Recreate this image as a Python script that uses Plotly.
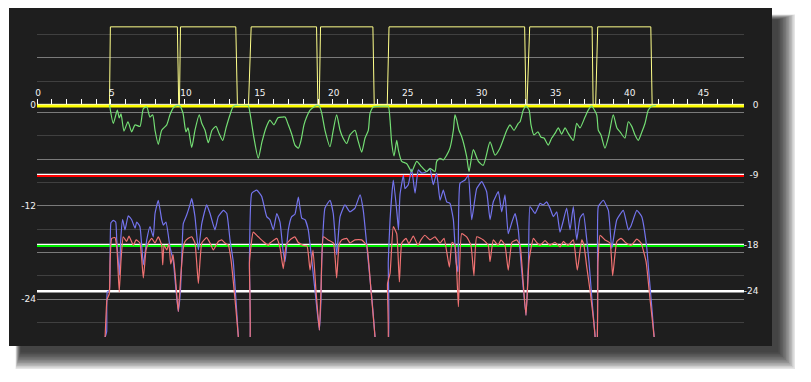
import plotly.graph_objects as go

# ---------------- data ----------------
x_max = 47.8

# gate state (0 = closed, 10 = open), right-axis units
gate_t = [0, 4.90, 4.96, 9.49, 9.58, 9.63, 9.70, 13.44, 13.55, 14.30, 14.48, 18.90, 18.99,
          19.08, 19.17, 22.71, 22.80, 23.68, 23.80, 32.97, 33.06, 33.13, 33.31, 37.53, 37.60,
          37.77, 37.91, 41.50, 41.59, 47.8]
gate_v = [0, 0, 10, 10, 0, 0, 10, 10, 0, 0, 10, 10, 0,
          0, 10, 10, 0, 0, 10, 10, 0, 0, 10, 10, 0,
          0, 10, 10, 0, 0]

# curves, left-axis units
green_t = [4.90, 5.16, 5.43, 5.56, 5.68, 5.88, 6.15, 6.40, 6.63, 6.96, 7.19, 7.42, 7.64, 7.82,
           7.98, 8.20, 8.43, 8.77, 8.99, 9.22, 9.50, 9.67, 9.87, 10.07, 10.21, 10.46, 10.68,
           10.97, 11.14, 11.36, 11.58, 11.83, 12.10, 12.31, 12.56, 12.78, 13.05, 13.25, 13.43,
           14.27, 14.40, 14.67, 14.96, 15.21, 15.48, 15.75, 16.02, 16.29, 16.57, 16.77, 16.99,
           17.24, 17.44, 17.67, 17.85, 18.05, 18.23, 18.46, 18.80, 18.93, 19.09, 19.25, 19.47,
           19.81, 20.01, 20.26, 20.49, 20.69, 20.94, 21.16, 21.50, 21.70, 21.95, 22.18, 22.40,
           22.52, 22.74, 23.53, 23.75, 23.87, 23.98, 24.14, 24.32, 24.43, 24.66, 25.00, 25.33,
           25.67, 26.01, 26.35, 26.57, 26.91, 27.02, 27.25, 27.47, 27.70, 27.92, 28.15, 28.26,
           28.38, 28.53, 28.71, 29.05, 29.21, 29.50, 29.84, 30.17, 30.63, 30.97, 31.30, 31.76,
           31.98, 32.25, 32.54, 32.66, 32.88, 33.06, 33.27, 33.40, 33.60, 33.87, 34.08, 34.28,
           34.57, 34.80, 35.02, 35.25, 35.47, 35.70, 35.92, 36.26, 36.49, 36.71, 37.05, 37.27,
           37.50, 37.84, 37.95, 38.13, 38.40, 38.67, 38.96, 39.21, 39.42, 39.75, 39.98, 40.21,
           40.43, 40.65, 40.90, 41.11, 41.33, 41.56, 41.85]
green_db = [1.0, -1.4, 0.3, -0.7, -0.2, -2.4, -1.2, -2.5, -1.6, -1.8, 0.5, 0.7, -0.6, -0.3,
            -2.3, -4.1, -2.3, -1.6, -0.3, 0.6, 0.9, 0.8, -0.1, -2.5, -2.0, -4.5, -2.3,
            -0.3, -1.4, -2.3, -3.9, -2.3, -1.8, -2.7, -3.6, -2.0, -0.3, 0.7, 0.9,
            0.9, -0.1, -3.3, -5.9, -3.8, -2.0, -1.0, -1.6, -0.7, -0.6, -0.6, -1.6,
            -2.9, -4.2, -4.6, -3.6, -1.6, -0.6, 0.3, 0.8, 0.9, 0.8, -0.1, -2.3,
            -4.4, -2.5, -0.3, -2.3, -3.3, -4.0, -2.9, -2.3, -3.6, -5.1, -3.3, -2.3,
            -0.1, 0.7, 0.8, 0.8, -1.0, -3.9, -5.6, -3.6, -4.8, -6.3, -6.6, -7.6,
            -6.3, -7.0, -7.6, -7.2, -7.6, -6.3, -5.9, -6.1, -5.5, -4.6, -2.3, -0.3,
            -1.0, -2.3, -3.1, -5.7, -7.6, -4.8, -6.3, -6.8, -3.8, -5.5, -4.6, -2.3,
            -1.6, -2.3, -1.4, -1.2, 0.3, 0.8, 0.3, -1.6, -2.9, -2.5, -3.2, -3.3,
            -4.2, -3.3, -2.7, -2.0, -2.8, -2.0, -2.7, -3.6, -1.4, -2.0, -0.6, 0.3,
            0.8, -0.3, -2.3, -2.9, -4.6, -2.9, -0.3, -2.0, -2.5, -3.3, -1.2, -1.8,
            -2.9, -3.6, -2.5, -1.4, 0.3, 0.8, 0.9]

blue_t = [4.50, 4.60, 4.71, 4.75, 4.89, 4.94, 5.00, 5.16, 5.32, 5.39, 5.50, 5.58, 5.66, 5.79,
          5.95, 6.17, 6.40, 6.63, 6.74, 6.96, 7.19, 7.42, 7.64, 7.86, 7.98, 8.20, 8.43, 8.54,
          8.72, 8.99, 9.22, 9.40, 9.55, 9.70, 9.78, 9.89, 10.12, 10.34, 10.46, 10.68, 10.91,
          11.14, 11.47, 11.70, 12.03, 12.26, 12.60, 12.83, 13.05, 13.27, 13.45, 13.61, 13.68,
          14.33, 14.36, 14.52, 14.86, 15.19, 15.53, 15.75, 15.98, 16.21, 16.43, 16.63, 16.77,
          16.99, 17.22, 17.44, 17.67, 17.90, 18.12, 18.34, 18.59, 18.86, 19.09, 19.20, 19.25,
          19.47, 19.81, 20.03, 20.26, 20.49, 20.82, 21.16, 21.50, 21.84, 22.06, 22.40, 22.65,
          22.85, 22.92, 23.68, 23.75, 23.87, 24.09, 24.32, 24.44, 24.54, 24.77, 24.88, 25.10,
          25.33, 25.56, 25.78, 26.01, 26.35, 26.57, 26.79, 27.02, 27.25, 27.47, 27.70, 27.92,
          28.15, 28.33, 28.46, 28.60, 28.94, 29.16, 29.39, 29.73, 30.07, 30.40, 30.63, 30.85,
          31.19, 31.42, 31.64, 31.86, 32.11, 32.32, 32.54, 32.72, 33.06, 33.23, 33.33, 33.67,
          34.01, 34.23, 34.46, 34.68, 34.91, 35.14, 35.36, 35.56, 35.81, 36.04, 36.26, 36.49,
          36.71, 36.94, 37.17, 37.32, 37.52, 37.73, 37.76, 37.84, 37.90, 37.95, 38.29, 38.63,
          38.86, 39.20, 39.64, 39.98, 40.16, 40.55, 40.88, 41.22, 41.38, 41.58, 41.72, 41.78]
blue_db = [-31, -29, -28.2, -23.1, -22.9, -19.2, -14.2, -13.9, -14.1, -16.4, -19.2, -20.9, -16.4, -13.8,
           -15.1, -13.3, -13.8, -14.9, -14.1, -14.7, -19.6, -16.4, -14.7, -16.0, -13.0, -11.3, -13.8, -14.5,
           -14.1, -17.3, -19.2, -22.9, -25.6, -22.9, -19.2, -14.3, -13.2, -11.9, -11.1, -13.4, -17.7,
           -14.3, -11.9, -13.0, -15.1, -13.4, -12.6, -13.0, -16.4, -19.2, -24.1, -28.8, -31,
           -31, -19.2, -10.4, -10.0, -10.8, -13.4, -13.8, -15.1, -13.0, -14.1, -17.7, -19.2,
           -15.1, -13.4, -13.1, -10.9, -13.6, -13.8, -15.1, -19.2, -24.1, -28.0, -24.1, -19.2,
           -12.3, -11.3, -13.0, -18.3, -13.4, -11.9, -12.8, -12.3, -10.6, -12.6, -19.2, -24.1,
           -28.8, -31, -31, -19.2, -13.8, -8.7, -12.6, -15.1, -10.6, -8.1, -9.8, -9.3,
           -7.3, -10.4, -7.4, -7.8, -7.6, -7.3, -9.3, -7.8, -11.3, -10.0, -11.5, -11.7,
           -13.8, -19.2, -20.5, -9.1, -8.7, -8.1, -13.8, -9.8, -8.9, -10.2, -13.8, -11.5,
           -10.2, -12.8, -10.6, -15.6, -14.1, -13.0, -15.1, -19.2, -26.1, -19.2, -12.1, -13.0,
           -11.7, -11.9, -11.5, -12.3, -13.4, -12.8, -15.4, -14.1, -12.3, -15.1, -12.1, -16.4,
           -13.6, -13.0, -16.4, -19.2, -24.1, -28.8, -31, -31, -19.2, -12.1, -11.3, -12.6,
           -17.5, -13.8, -12.6, -15.1, -14.6, -12.6, -13.4, -17.3, -20.9, -25.4, -28.8, -31]

red_t = [4.50, 4.60, 4.73, 4.89, 4.94, 5.05, 5.27, 5.41, 5.56, 5.68, 5.83, 6.06, 6.22, 6.51,
         6.70, 6.96, 7.19, 7.37, 7.53, 7.76, 7.98, 8.20, 8.43, 8.50, 8.59, 8.77, 8.92, 9.04,
         9.20, 9.40, 9.55, 9.70, 9.87, 10.01, 10.23, 10.46, 10.68, 10.91, 11.14, 11.47, 11.70,
         11.92, 12.26, 12.49, 12.71, 12.94, 13.12, 13.39, 13.61, 13.68, 14.33, 14.37, 14.62,
         14.96, 15.30, 15.64, 15.75, 16.21, 16.43, 16.65, 16.84, 17.11, 17.44, 17.65, 18.00,
         18.26, 18.46, 18.66, 18.86, 19.09, 19.20, 19.36, 19.68, 20.04, 20.26, 20.42, 20.60,
         20.94, 21.16, 21.50, 21.95, 22.29, 22.58, 22.85, 22.92, 23.68, 23.70, 23.87, 24.09,
         24.32, 24.50, 24.66, 24.95, 25.15, 25.44, 25.76, 25.96, 26.23, 26.57, 26.91, 27.25,
         27.52, 27.88, 28.06, 28.26, 28.49, 28.71, 29.05, 29.34, 29.54, 29.73, 30.18, 30.51,
         30.63, 30.85, 31.17, 31.37, 31.64, 31.86, 32.11, 32.43, 32.66, 32.86, 33.06, 33.27,
         33.56, 33.81, 34.01, 34.35, 34.68, 35.02, 35.36, 35.58, 35.90, 36.26, 36.53, 36.83,
         36.98, 37.17, 37.39, 37.73, 37.76, 37.84, 37.93, 38.07, 38.40, 38.74, 38.92, 39.20,
         39.49, 39.83, 40.16, 40.55, 40.84, 41.18, 41.45, 41.72, 41.78]
red_db = [-31, -29, -24.1, -23.3, -19.2, -16.2, -16.1, -17.7, -23.1, -19.0, -16.0, -16.6, -15.9, -17.1,
          -16.4, -16.8, -21.3, -17.7, -16.8, -16.2, -16.8, -16.0, -17.1, -19.6, -17.1, -17.7, -16.9, -19.5,
          -18.3, -22.2, -25.6, -21.6, -17.7, -16.6, -16.2, -16.0, -16.8, -22.0, -16.8, -16.1, -16.8,
          -17.7, -16.6, -16.4, -16.8, -17.1, -19.0, -24.1, -28.8, -31, -31, -19.2, -15.4,
          -16.0, -16.6, -17.1, -16.8, -16.2, -17.4, -20.1, -17.1, -16.4, -16.0, -16.7, -17.1,
          -17.2, -20.3, -17.7, -22.9, -28.0, -22.9, -16.0, -16.4, -16.8, -21.3, -17.1, -16.4,
          -16.2, -16.8, -16.4, -16.4, -17.1, -22.9, -28.8, -31, -31, -22.0, -20.7, -14.7,
          -15.6, -21.8, -16.8, -16.2, -16.9, -15.9, -17.1, -16.4, -15.8, -16.4, -16.0, -16.8,
          -16.2, -19.9, -16.7, -17.1, -25.0, -15.6, -16.0, -17.1, -21.0, -16.0, -16.4, -17.1,
          -19.2, -16.4, -17.1, -16.4, -17.1, -20.3, -16.7, -16.4, -17.1, -21.6, -26.1, -19.0,
          -16.2, -16.8, -17.1, -16.5, -17.1, -16.7, -17.3, -16.6, -17.1, -16.4, -20.3, -16.4,
          -17.1, -19.9, -22.9, -28.8, -31, -31, -19.2, -15.8, -16.4, -16.8, -21.0, -16.6,
          -16.2, -16.8, -17.1, -16.3, -16.8, -19.2, -24.1, -28.8, -31]

# reference levels (right axis) and their colours
ref_levels = [0, -9, -18, -24]
ref_labels = ["0", "-9", "-18", "-24"]
ref_colors = ["#ffff00", "#ff0000", "#00f000", "#ffffff"]

# left axis labels / grid
left_major = [0, -6, -12, -18, -24]
left_major_text = ["", "", "-12", "", "-24"]
left_minor = [-3, -9, -15, -21, -27]

# ---------------- geometry (page pixels; body has an 8px margin) ----------------
OFF = 8
VW, VH = 811, 382
P_L, P_R, P_T, P_B = 37, 781, 19, 337       # plot area on the page
W, H = VW - OFF, VH - OFF
ML, MT = P_L - OFF, P_T - OFF
MR, MB = W - (P_R - OFF), H - (P_B - OFF)
PW, PH = P_R - P_L, P_B - P_T


def fx(px):
    return (px - P_L) / PW


def fy(py):
    return (P_B - py) / PH


SCALE = 7.775                        # px per dB
R_ZERO, L_ZERO = 104.6, 112.4        # page y of 0 on right / left axes
R_TOP, R_BOT = (R_ZERO - P_T) / SCALE, (R_ZERO - P_B) / SCALE
L_TOP, L_BOT = (L_ZERO - P_T) / SCALE, (L_ZERO - P_B) / SCALE

BG = "#1e1e1e"
GRID_B = "#7a7a7a"
GRID_D = "#404040"
FONT = dict(family="DejaVu Sans", size=9, color="#f2f2f2")

fig = go.Figure()

# gate
fig.add_trace(go.Scatter(x=gate_t, y=gate_v, yaxis="y3", mode="lines",
                         line=dict(color="#ffff8a", width=1), hoverinfo="skip"))

# curves (left axis)
fig.add_trace(go.Scatter(x=blue_t, y=blue_db, yaxis="y2", mode="lines",
                         line=dict(color="#7474ee", width=1.2, shape="spline", smoothing=0.4),
                         hoverinfo="skip"))
fig.add_trace(go.Scatter(x=red_t, y=red_db, yaxis="y2", mode="lines",
                         line=dict(color="#f07272", width=1.2, shape="spline", smoothing=0.4),
                         hoverinfo="skip"))
fig.add_trace(go.Scatter(x=green_t, y=green_db, yaxis="y2", mode="lines",
                         line=dict(color="#74de74", width=1.2, shape="spline", smoothing=0.6),
                         hoverinfo="skip"))

# reference lines (right axis): white line with the coloured line just beneath
px_db = 1 / SCALE
for lv, col in zip(ref_levels, ref_colors):
    if lv == 0:
        fig.add_trace(go.Scatter(x=[0, x_max], y=[lv - 1.4 * px_db] * 2, mode="lines",
                                 line=dict(color=col, width=3), hoverinfo="skip"))
        fig.add_trace(go.Scatter(x=[0, x_max], y=[lv + 0.3 * px_db] * 2, mode="lines",
                                 line=dict(color="#ffffff", width=0.8), hoverinfo="skip"))
    elif col == "#ffffff":
        fig.add_trace(go.Scatter(x=[0, x_max], y=[lv] * 2, mode="lines",
                                 line=dict(color=col, width=2.4), hoverinfo="skip"))
    else:
        fig.add_trace(go.Scatter(x=[0, x_max], y=[lv] * 2, mode="lines",
                                 line=dict(color="#ffffff", width=1.5), hoverinfo="skip"))
        fig.add_trace(go.Scatter(x=[0, x_max], y=[lv - 1.5 * px_db] * 2, mode="lines",
                                 line=dict(color=col, width=2), hoverinfo="skip"))

# ---------------- shapes: panel + drop shadow ----------------
shapes = []
n = 12
for i in range(n):
    e = 18 * (1 - i / n)
    shapes.append(dict(type="rect", xref="paper", yref="paper", layer="below",
                       x0=fx(21 - 0.3 * e), x1=fx(777 + e), y0=fy(351 + e), y1=fy(20 - 0.3 * e),
                       line=dict(width=0), fillcolor="rgba(0,0,0,0.10)"))
shapes.append(dict(type="rect", xref="paper", yref="paper", layer="below",
                   x0=fx(9), x1=fx(772), y0=fy(346), y1=fy(8),
                   line=dict(width=0), fillcolor=BG))

fig.update_layout(
    width=W, height=H,
    margin=dict(l=ML, r=MR, t=MT, b=MB, pad=0),
    paper_bgcolor="#ffffff",
    plot_bgcolor="rgba(0,0,0,0)",
    showlegend=False,
    shapes=shapes,
    font=FONT,
    xaxis=dict(domain=[0, fx(744)], range=[0, x_max], anchor="free", position=fy(104),
               side="top", showgrid=False, zeroline=False, showline=False,
               tick0=0, dtick=5, ticks="outside", ticklen=5, tickwidth=1, tickcolor="#ffffff",
               minor=dict(dtick=1, ticks="outside", ticklen=5, tickwidth=1, tickcolor="#ffffff",
                          showgrid=False),
               ticklabelstandoff=-1, ticklabelshift=1, tickfont=FONT, fixedrange=True),
    yaxis=dict(domain=[0, 1], range=[R_BOT, R_TOP], anchor="free", position=fx(758.5),
               side="left", tickmode="array", tickvals=ref_levels, ticktext=ref_labels,
               showgrid=False, zeroline=False, showline=False, ticks="", tickfont=FONT),
    yaxis2=dict(overlaying="y", anchor="x", side="left", range=[L_BOT, L_TOP],
                tickmode="array", tickvals=left_major, ticktext=left_major_text,
                showgrid=True, gridcolor=GRID_B, gridwidth=1, zeroline=False, showline=False,
                ticks="", tickfont=FONT,
                minor=dict(tickmode="array", tickvals=left_minor, showgrid=True,
                           gridcolor=GRID_D, gridwidth=1, ticks="")),
    yaxis3=dict(overlaying="y", anchor="x", side="left", range=[R_BOT, R_TOP],
                tickmode="array", tickvals=[0, 6], ticktext=["0", ""],
                showgrid=True, gridcolor=GRID_B, gridwidth=1, zeroline=False, showline=False,
                ticks="", tickfont=FONT,
                minor=dict(tickmode="array", tickvals=[3, 9], showgrid=True,
                           gridcolor=GRID_D, gridwidth=1, ticks="")),
)

fig.write_html("out.html")
